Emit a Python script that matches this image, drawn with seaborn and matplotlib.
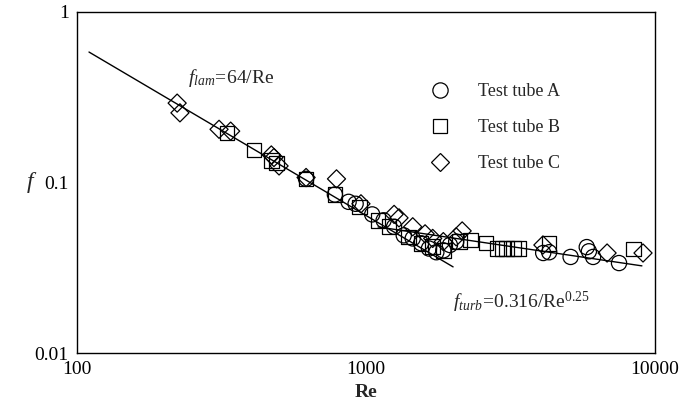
import numpy as np
import pandas as pd
import matplotlib
matplotlib.use("Agg")
import matplotlib.pyplot as plt
import seaborn as sns
from matplotlib.lines import Line2D

# ---- data ----
re_a = [620, 780, 870, 920, 1050, 1150, 1250, 1350, 1450, 1550, 1650, 1750, 1850, 1950, 2050,
        4100, 4300, 5100, 5800, 5900, 6100, 7500]
f_a = [0.105, 0.085, 0.077, 0.075, 0.065, 0.060, 0.055, 0.049, 0.047, 0.044, 0.041, 0.039, 0.040,
       0.043, 0.045, 0.0386, 0.039, 0.0366, 0.0418, 0.0395, 0.0366, 0.0337]

re_b = [330, 410, 470, 490, 620, 780, 950, 1100, 1200, 1400, 1550, 1700, 1850, 2100, 2300,
        2600, 2840, 2960, 3060, 3230, 3370, 4300, 8400]
f_b = [0.195, 0.155, 0.135, 0.130, 0.105, 0.085, 0.072, 0.060, 0.055, 0.048, 0.044, 0.042, 0.040,
       0.045, 0.046, 0.0442, 0.041, 0.041, 0.041, 0.041, 0.041, 0.044, 0.0407]

re_c = [222, 227, 310, 340, 470, 480, 500, 620, 790, 960, 1250, 1300, 1450, 1600, 1700, 1850,
        2050, 2150, 4090, 6820, 9080]
f_c = [0.292, 0.256, 0.205, 0.200, 0.145, 0.140, 0.125, 0.107, 0.105, 0.075, 0.065, 0.062,
       0.055, 0.050, 0.047, 0.045, 0.048, 0.052, 0.043, 0.0386, 0.0386]

series_names = ["Test tube A", "Test tube B", "Test tube C"]

lam_re = np.array([110.0, 2000.0])
turb_re = np.array([1100.0, 9000.0])

x_ticks = [100, 1000, 10000]
x_ticklabels = ["100", "1000", "10000"]
y_ticks = [0.01, 0.1, 1]
y_ticklabels = ["0.01", "0.1", "1"]

# ---- styling ----
sns.set_style("white")
plt.rcParams["font.family"] = ["Liberation Serif", "DejaVu Serif"]
plt.rcParams["mathtext.fontset"] = "custom"
plt.rcParams["mathtext.rm"] = "Liberation Serif"
plt.rcParams["mathtext.it"] = "Liberation Serif:italic"
plt.rcParams["mathtext.bf"] = "Liberation Serif:bold"

fig = plt.figure(figsize=(6.94, 4.11), dpi=100)
ax = fig.add_axes([0.111, 0.141, 0.833, 0.830])

# theory lines
sns.lineplot(x=lam_re, y=64.0 / lam_re, color="black", lw=1.0, ax=ax)
sns.lineplot(x=turb_re, y=0.316 / turb_re ** 0.25, color="black", lw=1.0, ax=ax)

for re_v, f_v, mk, sz in [(re_a, f_a, "o", 120), (re_b, f_b, "s", 110), (re_c, f_c, "D", 85)]:
    sns.scatterplot(x=re_v, y=f_v, marker=mk, s=sz, facecolors="none", edgecolors="black",
                    linewidth=0.9, ax=ax, zorder=3)

ax.set_xscale("log")
ax.set_yscale("log")
ax.set_xlim(100, 10000)
ax.set_ylim(0.01, 1)
ax.set_xticks(x_ticks)
ax.set_xticklabels(x_ticklabels)
ax.set_yticks(y_ticks)
ax.set_yticklabels(y_ticklabels)
ax.minorticks_off()
ax.tick_params(axis="both", which="major", direction="in", length=11, width=1.0,
               labelsize=14, pad=6, colors="black")
for sp in ax.spines.values():
    sp.set_visible(True)
    sp.set_color("black")
    sp.set_linewidth(1.0)

ax.set_xlabel("Re", fontsize=14, fontweight="bold", labelpad=4)
ax.set_ylabel("f", fontsize=17, style="italic", rotation=0, va="center")
ax.yaxis.set_label_coords(-0.081, 0.50)

# legend
leg_handles = [Line2D([], [], ls="none", marker=m, ms=ms, mfc="none", mec="black", mew=0.9)
               for m, ms in [("o", 11), ("s", 10.5), ("D", 9)]]
ax.legend(leg_handles, series_names, loc="upper left", bbox_to_anchor=(0.569, 0.839),
          frameon=False, fontsize=13, handletextpad=1.07, labelspacing=1.05)

ax.text(242, 0.41, r"$\mathit{f}_{\mathit{lam}}\!\mathrm{=}\!\mathrm{64/Re}$", fontsize=14,
        va="center", ha="left")
ax.text(2000, 0.0197, r"$\mathit{f}_{\mathit{turb}}\!\mathrm{=}\!\mathrm{0.316/Re}^{0.25}$",
        fontsize=14, va="center", ha="left")

fig.savefig("out.png", dpi=100)
